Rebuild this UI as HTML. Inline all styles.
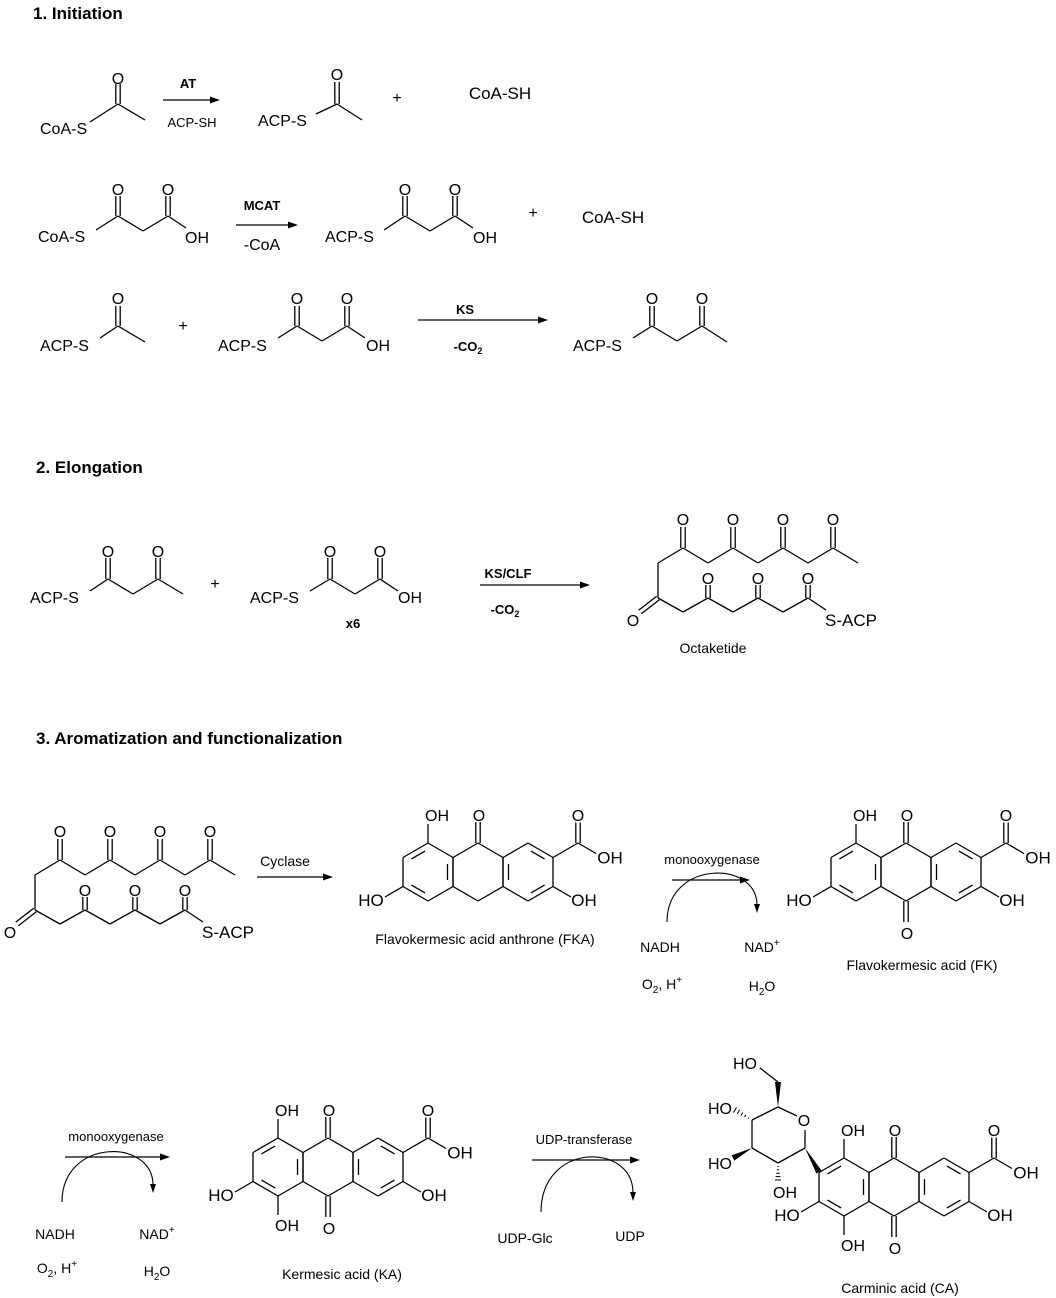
<!DOCTYPE html>
<html><head><meta charset="utf-8"><style>
html,body{margin:0;padding:0;background:#fff;}
svg{display:block;font-family:"Liberation Sans",Arial,sans-serif;}
text{fill:#000;}
</style></head><body>
<svg id="s" width="1056" height="1298" viewBox="0 0 1056 1298" xmlns="http://www.w3.org/2000/svg">
<text x="33" y="19" font-size="17" font-weight="bold">1. Initiation</text>
<text x="36" y="473" font-size="17" font-weight="bold">2. Elongation</text>
<text x="36" y="744" font-size="17" font-weight="bold">3. Aromatization and functionalization</text>
</svg>
<script>
var S=document.getElementById('s'),NS='http://www.w3.org/2000/svg';
function el(n,a,t){var e=document.createElementNS(NS,n);for(var k in a)e.setAttribute(k,a[k]);if(t!=null)e.textContent=t;S.appendChild(e);return e;}
function L(x1,y1,x2,y2,w){el('line',{x1:x1,y1:y1,x2:x2,y2:y2,stroke:'#000','stroke-width':w||1.3});}
function T(x,y,s,fs,anchor,bold){return el('text',{x:x,y:y,'font-size':fs||16,'text-anchor':anchor||'middle','font-weight':bold?'bold':'normal'},s);}
function TH(x,y,h,fs,anchor){var e=el('text',{x:x,y:y,'font-size':fs||16,'text-anchor':anchor||'middle'});e.innerHTML=h;}
function D(x1,y1,x2,y2){ // double bond (offset both sides)
 var dx=x2-x1,dy=y2-y1,l=Math.hypot(dx,dy),nx=-dy/l*2.2,ny=dx/l*2.2;
 L(x1+nx,y1+ny,x2+nx,y2+ny);L(x1-nx,y1-ny,x2-nx,y2-ny);}
function arrow(x1,x2,y){L(x1,y,x2-8,y,1.2);el('polygon',{points:(x2)+','+y+' '+(x2-10)+','+(y-3.5)+' '+(x2-10)+','+(y+3.5),fill:'#000'});}
function P(pts){for(var i=0;i<pts.length-1;i++)L(pts[i][0],pts[i][1],pts[i+1][0],pts[i+1][1]);}
function arc(x1,y1,x2,y2,top){el('path',{d:'M'+x1+' '+y1+' C'+x1+' '+top+' '+x2+' '+top+' '+x2+' '+(y2-7),fill:'none',stroke:'#000','stroke-width':1.1});
 el('polygon',{points:x2+','+(y2+1)+' '+(x2-3)+','+(y2-8)+' '+(x2+3)+','+(y2-8),fill:'#000'});}

// ===== Row 1 =====
T(40,134,'CoA-S',16,'start');P([[90,122],[118,104],[145,120]]);D(118,104,118,84);T(118,84,'O');
T(188,88,'AT',13,'middle',true);arrow(163,220,100);T(192,127,'ACP-SH',13);
T(258,126,'ACP-S',16,'start');P([[316,114],[337,104],[362,120]]);D(337,104,337,82);T(337,80,'O');
T(397,103,'+',16);T(500,99,'CoA-SH',17);
// ===== Row 2 =====
T(38,242,'CoA-S',16,'start');P([[96,230],[118,216],[143,231],[168,216],[186,228]]);D(118,216,118,196);D(168,216,168,196);
T(118,195,'O');T(168,195,'O');T(197,243,'OH',16);
T(262,210,'MCAT',13,'middle',true);arrow(236,298,225);T(262,250,'-CoA',16);
T(325,242,'ACP-S',16,'start');P([[384,230],[405,216],[430,231],[455,216],[473,228]]);D(405,216,405,196);D(455,216,455,196);
T(405,195,'O');T(455,195,'O');T(485,243,'OH',16);
T(533,218,'+',16);T(613,223,'CoA-SH',17);
// ===== Row 3 =====
T(40,351,'ACP-S',16,'start');P([[100,338],[118,326],[145,342]]);D(118,326,118,306);T(118,304,'O');
T(183,331,'+',16);
T(218,351,'ACP-S',16,'start');P([[278,338],[297,326],[322,341],[347,326],[365,338]]);D(297,326,297,306);D(347,326,347,306);
T(297,304,'O');T(347,304,'O');T(378,351,'OH',16);
T(465,314,'KS',13,'middle',true);arrow(418,548,320);TH(468,351,'-CO<tspan font-size="9" dy="3">2</tspan>',13);
el('text',{x:468,y:351,'font-size':13,'font-weight':'bold','text-anchor':'middle',fill:'#fff',opacity:0});
T(573,351,'ACP-S',16,'start');P([[633,338],[652,326],[677,341],[702,326],[727,342]]);D(652,326,652,306);D(702,326,702,306);
T(652,304,'O');T(702,304,'O');
// ===== Elongation =====
T(30,603,'ACP-S',16,'start');P([[90,591],[108,579],[133,594],[158,579],[183,594]]);D(108,579,108,558);D(158,579,158,558);
T(108,557,'O');T(158,557,'O');
T(215,589,'+',16);
T(250,603,'ACP-S',16,'start');P([[310,591],[330,579],[355,594],[380,579],[398,591]]);D(330,579,330,558);D(380,579,380,558);
T(330,557,'O');T(380,557,'O');T(410,603,'OH',16);T(353,628,'x6',13,'middle',true);
T(508,578,'KS/CLF',13,'middle',true);arrow(480,590,585);
var c2=el('text',{x:505,y:614,'font-size':13,'font-weight':'bold','text-anchor':'middle'});c2.innerHTML='-CO<tspan font-size="9" dy="3">2</tspan>';
// fix row3 -CO2 bold
S.querySelectorAll('text').forEach(function(t){if(t.textContent=='-CO2')t.setAttribute('font-weight','bold');});

function octa(dx,dy){
 function p(x,y){return [x+dx,y+dy];}
 P([p(658,598),p(658,563),p(683,548),p(708,563),p(733,548),p(758,563),p(783,548),p(808,563),p(833,548),p(858,563)]);
 [683,733,783,833].forEach(function(x){var a=p(x,548),b=p(x,527);D(a[0],a[1],b[0],b[1]);T(x+dx,525+dy,'O');});
 P([p(658,598),p(683,612),p(708,598),p(733,612),p(758,598),p(783,612),p(808,598),p(826,610)]);
 var a=p(658,598),b=p(640,612);D(a[0],a[1],b[0],b[1]);T(633+dx,626+dy,'O');
 [708,758,808].forEach(function(x){var a=p(x,598),b=p(x,585);D(a[0],a[1],b[0],b[1]);T(x+dx,584+dy,'O');});
 T(825+dx,626+dy,'S-ACP',17,'start');
}
octa(0,0);T(713,653,'Octaketide',14);
octa(-623,312);

// ===== Anthracene core =====
function hex(cx,cy){var b=29,h=25;return [[cx,cy-b],[cx+h,cy-b/2],[cx+h,cy+b/2],[cx,cy+b],[cx-h,cy+b/2],[cx-h,cy-b/2]];}
function inner(cx,cy,i,j){var v=hex(cx,cy),a=v[i],b=v[j],f=0.78,g=0.15;
 var ax=cx+(a[0]-cx)*f,ay=cy+(a[1]-cy)*f,bx=cx+(b[0]-cx)*f,by=cy+(b[1]-cy)*f;
 L(ax+(bx-ax)*g,ay+(by-ay)*g,bx-(bx-ax)*g,by-(by-ay)*g);}
function ring(cx,cy){var v=hex(cx,cy);for(var i=0;i<6;i++)L(v[i][0],v[i][1],v[(i+1)%6][0],v[(i+1)%6][1]);}
function anth(dx,dy,opt){
 var lc=428+dx,cc=478+dx,rc=528+dx,cy=872+dy;
 ring(lc,cy);ring(cc,cy);ring(rc,cy);
 inner(lc,cy,0,5);inner(lc,cy,3,4);inner(lc,cy,1,2);
 inner(rc,cy,5,4);inner(rc,cy,0,1);inner(rc,cy,2,3);
 // top OH
 L(lc,cy-29,lc,cy-48);T(lc+9,cy-51,'OH',16);
 // top C=O
 D(cc,cy-29,cc,cy-50);T(cc+1,cy-51,'O',16);
 // COOH
 var ux=rc+25,uy=cy-14.5;L(ux,uy,ux+25,uy-14.5);D(ux+25,uy-14.5,ux+25,uy-35);T(ux+25,cy-51,'O',16);
 L(ux+25,uy-14.5,ux+43,uy-4);T(ux+57,uy+6,'OH',17);
 // right OH
 L(ux,cy+14.5,ux+18,cy+25);T(ux+31,cy+34,'OH',17);
 // left HO
 L(lc-25,cy+14.5,lc-43,cy+25);T(lc-57,cy+34,'HO',17);
 if(opt.q){D(cc,cy+29,cc,cy+50);T(cc+1,cy+67,'O',16);}
 if(opt.bOH){L(lc,cy+29,lc,cy+48);T(lc+9,cy+64,'OH',16);}
}
anth(0,0,{});T(485,944,'Flavokermesic acid anthrone (FKA)',14);
anth(428,0,{q:1});T(922,970,'Flavokermesic acid (FK)',14);
anth(-150,295,{q:1,bOH:1});T(342,1279,'Kermesic acid (KA)',14);
anth(416,315,{q:1,bOH:1});T(900,1293,'Carminic acid (CA)',14);

// ===== sugar =====
P([[805,1148],[805,1130]]);P([[797,1116],[778,1107],[752,1120],[752,1148],[778,1163],[805,1148]]);
T(804,1126,'O',16);
function wedge(x1,y1,x2,y2,w){var dx=x2-x1,dy=y2-y1,l=Math.hypot(dx,dy),nx=-dy/l*w,ny=dx/l*w;
 el('polygon',{points:x1+','+y1+' '+(x2+nx)+','+(y2+ny)+' '+(x2-nx)+','+(y2-ny),fill:'#000'});}
function hash(x1,y1,x2,y2,w){for(var i=1;i<=5;i++){var t=i/5,x=x1+(x2-x1)*t,y=y1+(y2-y1)*t,dx=x2-x1,dy=y2-y1,l=Math.hypot(dx,dy),k=w*t;L(x-dy/l*k,y+dx/l*k,x+dy/l*k,y-dx/l*k,1);}}
wedge(805,1148,819,1172,3);
wedge(778,1107,778,1082,3);L(778,1082,760,1068);T(745,1069,'HO',16);
hash(752,1120,735,1110,3);T(720,1114,'HO',16);
wedge(752,1148,733,1158,3);T(720,1169,'HO',16);
hash(778,1163,778,1180,3);T(785,1198,'OH',16);

// ===== arrows section 3 =====
T(285,866,'Cyclase',14);arrow(257,333,877);
T(712,864,'monooxygenase',13);arrow(672,750,880);arc(667,922,757,912,860);
T(660,952,'NADH',14);TH(762,952,'NAD<tspan font-size="10" dy="-6">+</tspan>',14);
TH(662,989,'O<tspan font-size="10" dy="4">2</tspan><tspan dy="-4">,  H</tspan><tspan font-size="10" dy="-6">+</tspan>',14);
TH(762,991,'H<tspan font-size="10" dy="4">2</tspan><tspan dy="-4">O</tspan>',14);
T(116,1141,'monooxygenase',13);arrow(65,170,1157);arc(62,1202,153,1192,1138);
T(55,1239,'NADH',14);TH(157,1239,'NAD<tspan font-size="10" dy="-6">+</tspan>',14);
TH(57,1273,'O<tspan font-size="10" dy="4">2</tspan><tspan dy="-4">,  H</tspan><tspan font-size="10" dy="-6">+</tspan>',14);
TH(157,1276,'H<tspan font-size="10" dy="4">2</tspan><tspan dy="-4">O</tspan>',14);
T(584,1144,'UDP-transferase',13);arrow(532,640,1160);arc(541,1212,633,1200,1142);
T(525,1243,'UDP-Glc',14);T(630,1241,'UDP',14);
</script>
</body></html>
